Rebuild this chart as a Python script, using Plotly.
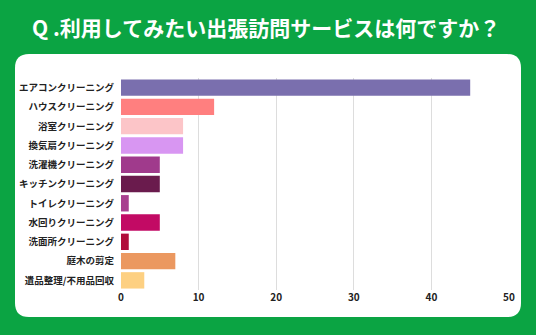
import plotly.graph_objects as go

categories = ["エアコンクリーニング", "ハウスクリーニング", "浴室クリーニング", "換気扇クリーニング",
              "洗濯機クリーニング", "キッチンクリーニング", "トイレクリーニング", "水回りクリーニング",
              "洗面所クリーニング", "庭木の剪定", "遺品整理/不用品回収"]
values = [45, 12, 8, 8, 5, 5, 1, 5, 1, 7, 3]
colors = ["#7a6fae", "#ff7f7f", "#fcc5c8", "#d896f2", "#a03a8c", "#6a1b4d",
          "#a8408f", "#c20a64", "#b00d3a", "#eb9860", "#fdd082"]
x_ticks = [0, 10, 20, 30, 40, 50]
title_text = "Q .利用してみたい出張訪問サービスは何ですか？"

W, H = 536, 335
L, R, T, B = 121, 27, 78, 45
pw, ph = W - L - R, H - T - B

def px(x):
    return (x - L) / pw

def py(y):
    return (H - B - y) / ph

# rounded white card
x0, x1, y0, y1, r = 15, 521, 54, 317, 14
path = (f"M {px(x0 + r)},{py(y0)} L {px(x1 - r)},{py(y0)} Q {px(x1)},{py(y0)} {px(x1)},{py(y0 + r)} "
        f"L {px(x1)},{py(y1 - r)} Q {px(x1)},{py(y1)} {px(x1 - r)},{py(y1)} "
        f"L {px(x0 + r)},{py(y1)} Q {px(x0)},{py(y1)} {px(x0)},{py(y1 - r)} "
        f"L {px(x0)},{py(y0 + r)} Q {px(x0)},{py(y0)} {px(x0 + r)},{py(y0)} Z")

fig = go.Figure(go.Bar(
    x=values, y=categories, orientation="h",
    marker=dict(color=colors, line=dict(width=0)),
    width=0.85,
))

fig.update_layout(
    width=W, height=H,
    margin=dict(l=L, r=R, t=T, b=B),
    paper_bgcolor="#0ba443",
    plot_bgcolor="rgba(0,0,0,0)",
    font=dict(family="Noto Sans CJK JP", color="#222222"),
    showlegend=False,
    shapes=[dict(type="path", xref="paper", yref="paper", path=path,
                 fillcolor="white", line=dict(width=0), layer="below")],
    annotations=[dict(text=f"<b>{title_text}</b>", xref="paper", yref="paper",
                      x=px(266), y=py(27), xanchor="center", yanchor="middle",
                      showarrow=False, font=dict(size=21, color="white",
                                                 family="Noto Sans CJK JP"))],
)
fig.update_xaxes(range=[0, 50], tickvals=x_ticks, showgrid=True, gridcolor="#dddddd",
                 gridwidth=1, zeroline=False, showline=False, ticks="",
                 tickfont=dict(size=10, color="#222222", family="Noto Sans CJK JP", weight="bold"),
                 fixedrange=True)
fig.update_yaxes(autorange="reversed", showgrid=False, ticks="", ticklabelstandoff=6,
                 tickfont=dict(size=9.5, color="#222222", family="Noto Sans CJK JP", weight="bold"),
                 fixedrange=True)

fig.write_html("out.html", config={"displayModeBar": False})
